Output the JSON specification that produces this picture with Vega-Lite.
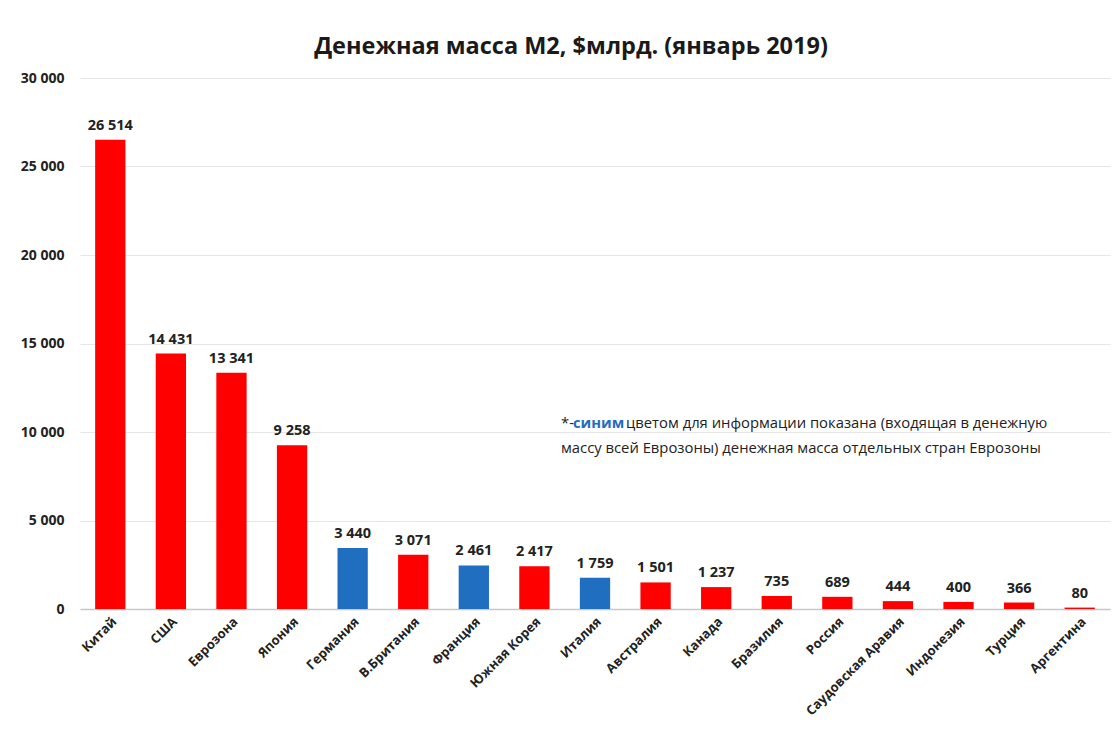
{
  "$schema": "https://vega.github.io/schema/vega-lite/v6.json",
  "autosize": "none",
  "width": 1030,
  "height": 531,
  "padding": {"left": 80, "top": 78, "right": 6, "bottom": 129},
  "background": "white",
  "config": {"view": {"stroke": null}, "font": "Open Sans"},
  "title": {
    "text": "Денежная масса М2, $млрд. (январь 2019)",
    "fontSize": 23.5,
    "fontWeight": "bold",
    "color": "#1a1a1a",
    "anchor": "middle",
    "dx": -24,
    "offset": 13
  },
  "data": {
    "values": [
      {"country": "Китай", "m2": 26514, "group": "other"},
      {"country": "США", "m2": 14431, "group": "other"},
      {"country": "Еврозона", "m2": 13341, "group": "other"},
      {"country": "Япония", "m2": 9258, "group": "other"},
      {"country": "Германия", "m2": 3440, "group": "euro"},
      {"country": "В.Британия", "m2": 3071, "group": "other"},
      {"country": "Франция", "m2": 2461, "group": "euro"},
      {"country": "Южная Корея", "m2": 2417, "group": "other"},
      {"country": "Италия", "m2": 1759, "group": "euro"},
      {"country": "Австралия", "m2": 1501, "group": "other"},
      {"country": "Канада", "m2": 1237, "group": "other"},
      {"country": "Бразилия", "m2": 735, "group": "other"},
      {"country": "Россия", "m2": 689, "group": "other"},
      {"country": "Саудовская Аравия", "m2": 444, "group": "other"},
      {"country": "Индонезия", "m2": 400, "group": "other"},
      {"country": "Турция", "m2": 366, "group": "other"},
      {"country": "Аргентина", "m2": 80, "group": "other"}
    ]
  },
  "encoding": {
    "x": {
      "field": "country",
      "type": "nominal",
      "sort": null,
      "scale": {"paddingInner": 0.5, "paddingOuter": 0.25},
      "axis": {
        "title": null,
        "labelAngle": -45,
        "labelFontWeight": "bold",
        "labelFontSize": 13,
        "labelColor": "#222222",
        "labelPadding": 6,
        "ticks": false,
        "domainColor": "#C8C8C8",
        "domainWidth": 1.5
      }
    },
    "y": {
      "field": "m2",
      "type": "quantitative",
      "scale": {"domain": [0, 30000], "nice": false},
      "axis": {
        "title": null,
        "values": [0, 5000, 10000, 15000, 20000, 25000, 30000],
        "labelExpr": "replace(format(datum.value, ','), ',', ' ')",
        "labelFontWeight": "bold",
        "labelFontSize": 14,
        "labelColor": "#222222",
        "labelPadding": 16,
        "grid": true,
        "gridColor": "#E6E6E6",
        "domain": false,
        "ticks": false
      }
    }
  },
  "layer": [
    {
      "mark": {"type": "bar"},
      "encoding": {
        "color": {
          "field": "group",
          "type": "nominal",
          "scale": {"domain": ["other", "euro"], "range": ["#FF0000", "#1F6EC0"]},
          "legend": null
        }
      }
    },
    {
      "mark": {
        "type": "text",
        "baseline": "bottom",
        "dy": -7,
        "fontWeight": "bold",
        "fontSize": 14.5,
        "color": "#222222",
        "text": {"expr": "replace(format(datum.m2, ','), ',', ' ')"}
      }
    },
    {
      "data": {"values": [{"country": "Италия", "m2": 10450, "t": "*-"}]},
      "mark": {"type": "text", "align": "left", "baseline": "middle", "dx": -34, "fontSize": 14.8, "color": "#222222"},
      "encoding": {"text": {"field": "t"}}
    },
    {
      "data": {"values": [{"country": "Италия", "m2": 10450, "t": "синим"}]},
      "mark": {"type": "text", "align": "left", "baseline": "middle", "dx": -22, "fontSize": 14.8, "fontWeight": "bold", "color": "#1F6EC0"},
      "encoding": {"text": {"field": "t"}}
    },
    {
      "data": {"values": [{"country": "Италия", "m2": 10450, "t": "цветом для информации показана (входящая в денежную"}]},
      "mark": {"type": "text", "align": "left", "baseline": "middle", "dx": 31, "fontSize": 14.8, "color": "#222222"},
      "encoding": {"text": {"field": "t"}}
    },
    {
      "data": {"values": [{"country": "Италия", "m2": 9040, "t": "массу всей Еврозоны) денежная масса  отдельных стран Еврозоны"}]},
      "mark": {"type": "text", "align": "left", "baseline": "middle", "dx": -34, "fontSize": 14.8, "color": "#222222"},
      "encoding": {"text": {"field": "t"}}
    }
  ]
}
